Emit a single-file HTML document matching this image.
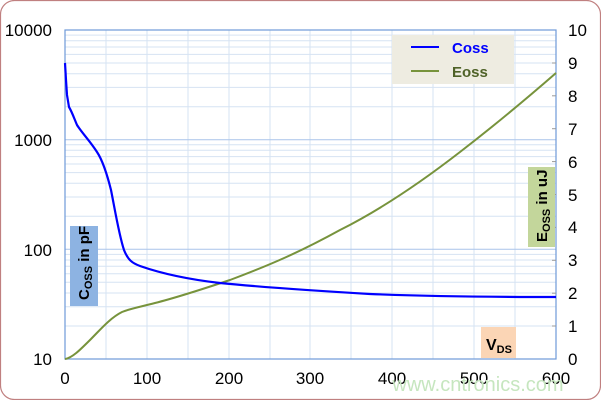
<!DOCTYPE html>
<html><head><meta charset="utf-8"><style>
html,body{margin:0;padding:0;background:#fff;}
svg{display:block;font-family:"Liberation Sans",Arial,sans-serif;}
</style></head><body>
<svg width="601" height="400" viewBox="0 0 601 400" xmlns="http://www.w3.org/2000/svg">
<rect x="0.5" y="0.5" width="600" height="399" rx="14" fill="#fff" stroke="#c08080" stroke-width="1.2"/>
<g stroke="#d6e3f3" stroke-width="1">
<line x1="65" x2="556" y1="326" y2="326"/><line x1="65" x2="556" y1="306.7" y2="306.7"/><line x1="65" x2="556" y1="293" y2="293"/><line x1="65" x2="556" y1="282.3" y2="282.3"/><line x1="65" x2="556" y1="273.7" y2="273.7"/><line x1="65" x2="556" y1="266.3" y2="266.3"/><line x1="65" x2="556" y1="260" y2="260"/><line x1="65" x2="556" y1="254.4" y2="254.4"/>
<line x1="65" x2="556" y1="216.3" y2="216.3"/><line x1="65" x2="556" y1="197" y2="197"/><line x1="65" x2="556" y1="183.3" y2="183.3"/><line x1="65" x2="556" y1="172.6" y2="172.6"/><line x1="65" x2="556" y1="164" y2="164"/><line x1="65" x2="556" y1="156.6" y2="156.6"/><line x1="65" x2="556" y1="150.3" y2="150.3"/><line x1="65" x2="556" y1="144.7" y2="144.7"/>
<line x1="65" x2="556" y1="106.7" y2="106.7"/><line x1="65" x2="556" y1="87.4" y2="87.4"/><line x1="65" x2="556" y1="73.7" y2="73.7"/><line x1="65" x2="556" y1="63" y2="63"/><line x1="65" x2="556" y1="54.4" y2="54.4"/><line x1="65" x2="556" y1="47" y2="47"/><line x1="65" x2="556" y1="40.7" y2="40.7"/><line x1="65" x2="556" y1="35.1" y2="35.1"/>
<line y1="30" y2="359" x1="106" x2="106"/><line y1="30" y2="359" x1="147" x2="147"/><line y1="30" y2="359" x1="188" x2="188"/><line y1="30" y2="359" x1="229" x2="229"/><line y1="30" y2="359" x1="270" x2="270"/><line y1="30" y2="359" x1="310" x2="310"/><line y1="30" y2="359" x1="351" x2="351"/><line y1="30" y2="359" x1="392" x2="392"/><line y1="30" y2="359" x1="433" x2="433"/><line y1="30" y2="359" x1="474" x2="474"/><line y1="30" y2="359" x1="515" x2="515"/>
</g>
<g stroke="#a9c4ea" stroke-width="1">
<line x1="65" x2="556" y1="249.3" y2="249.3"/><line x1="65" x2="556" y1="139.7" y2="139.7"/>
</g>
<rect x="65" y="30" width="491" height="329" fill="none" stroke="#6f9ad8" stroke-width="1.2"/>
<g stroke="#999" stroke-width="1">
<line x1="552" x2="556" y1="63" y2="63"/><line x1="552" x2="556" y1="95.8" y2="95.8"/><line x1="552" x2="556" y1="128.7" y2="128.7"/><line x1="552" x2="556" y1="161.6" y2="161.6"/><line x1="552" x2="556" y1="194.5" y2="194.5"/><line x1="552" x2="556" y1="227.4" y2="227.4"/><line x1="552" x2="556" y1="260.3" y2="260.3"/><line x1="552" x2="556" y1="293.2" y2="293.2"/><line x1="552" x2="556" y1="326" y2="326"/>
</g>
<g font-size="17" fill="#000" text-anchor="end">
<text x="52" y="36">10000</text><text x="52" y="146">1000</text><text x="52" y="256">100</text><text x="52" y="365">10</text>
</g>
<g font-size="17" fill="#000" text-anchor="start">
<text x="568" y="36">10</text><text x="568" y="69">9</text><text x="568" y="102">8</text><text x="568" y="135">7</text><text x="568" y="168">6</text><text x="568" y="201">5</text><text x="568" y="233">4</text><text x="568" y="266">3</text><text x="568" y="299">2</text><text x="568" y="332">1</text><text x="568" y="365">0</text>
</g>
<g font-size="17" fill="#000" text-anchor="middle">
<text x="65" y="384">0</text><text x="147" y="384">100</text><text x="229" y="384">200</text><text x="310" y="384">300</text><text x="392" y="384">400</text><text x="474" y="384">500</text><text x="556" y="384">600</text>
</g>
<text x="478" y="391" font-size="20" fill="#c6e6bf" text-anchor="middle">www.cntronics.com</text>
<path d="M65,359 C72,358 80,350 90,340 C100,330 110,318 122,312 C132,308 140,307 155,303 C175,298 200,290 230,280 C270,265 300,252 340,230 C380,210 420,183 460,152 C495,125 525,100 556,73" fill="none" stroke="#77933c" stroke-width="2"/>
<path d="M65,63 L66,80 L67,95 L69,107 C72,112 74,118 77,125 C82,133 90,141 97,152 C103,161 107,174 111,190 C115,210 119,235 124,250 C128,260 132,263 140,266 C160,273 185,279 220,283 C270,288 320,291 370,294 C420,296 480,297 556,297" fill="none" stroke="#0000ff" stroke-width="2.2"/>
<rect x="392" y="35" width="122" height="49" fill="#eeece1"/>
<line x1="411" x2="439" y1="47" y2="47" stroke="#0000ff" stroke-width="2"/>
<line x1="411" x2="439" y1="71" y2="71" stroke="#77933c" stroke-width="2"/>
<text x="452" y="53" font-size="15" font-weight="bold" fill="#0000ff">Coss</text>
<text x="452" y="77" font-size="15" font-weight="bold" fill="#4f6228">Eoss</text>
<rect x="70" y="226" width="28" height="80" fill="#8db3e2"/>
<text transform="translate(89,300) rotate(-90)" font-size="15" font-weight="bold" fill="#000">C<tspan font-size="11" dy="3">OSS</tspan><tspan dy="-3">  in pF</tspan></text>
<rect x="528" y="167" width="27" height="80" fill="#c3d69b"/>
<text transform="translate(547,242) rotate(-90)" font-size="15" font-weight="bold" fill="#000">E<tspan font-size="11" dy="3">OSS</tspan><tspan dy="-3">  in uJ</tspan></text>
<rect x="481" y="327" width="35" height="31" fill="#fbd5b5"/>
<text x="486" y="350" font-size="16" font-weight="bold" fill="#000">V<tspan font-size="11" dy="3">DS</tspan></text>
</svg>
</body></html>
